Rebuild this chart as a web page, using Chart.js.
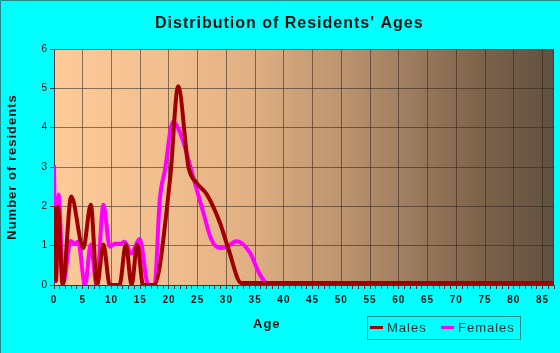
<!DOCTYPE html>
<html>
<head>
<meta charset="utf-8">
<title>Distribution of Residents' Ages</title>
<script src="https://cdn.jsdelivr.net/npm/chart.js@4.4.1/dist/chart.umd.min.js"></script>
<style>
    html, body { margin: 0; padding: 0; background: #00ffff; }
    canvas { display: block; }
</style>
</head>
<body>
<canvas id="chart-ages" width="560" height="353"></canvas>
<script>
/**
 * Distribution of Residents' Ages - males vs females, smoothed lines
 */

const CHART_TITLE = "Distribution of Residents' Ages";
const X_TITLE = 'Age';
const Y_TITLE = 'Number of residents';
const SERIES_LABELS = ['Males', 'Females'];

// axis range / ticks
const AGE_MIN = 0;
const AGE_MAX = 87;
const COUNT_MAX = 6;

// values (age, number of residents)
const maleAges = [0, 0.35, 0.7, 1.5, 3.0, 5.1, 6.4, 7.5, 8.6, 9.7, 11.4, 12.5, 13.5, 14.5, 15.5, 17.4,
    20.2, 21.6, 23.4, 24.8, 26.6, 28.9, 30.3, 32.6, 87];
const maleCounts = [2.0, 0.1, 2.0, 0.0, 2.25, 0.94, 2.04, 0.0, 1.03, 0.0, 0.0, 1.03, 0.0, 1.03, 0.0, 0.0,
    2.7, 5.05, 3.0, 2.6, 2.3, 1.57, 0.94, 0.05, 0.05];

const femaleAges = [0, 0.3, 0.8, 1.6, 2.9, 3.6, 4.2, 5.4, 6.4, 7.4, 8.6, 9.7, 10.6, 11.6, 12.3, 13.4, 14.9,
    16.4, 17.5, 18.4, 19.3, 20.7, 22.2, 24.2, 26.0, 27.4, 28.9, 30.0, 31.8, 34.1, 35.8, 37.3, 87];
const femaleCounts = [3.05, 0.1, 2.3, 0.05, 1.12, 1.05, 1.1, 0.0, 1.03, 0.0, 2.04, 0.97, 1.05, 1.05, 1.1, 0.8, 1.17,
    0.0, 0.0, 2.16, 2.92, 4.15, 3.77, 2.75, 1.83, 1.15, 0.94, 0.97, 1.11, 0.82, 0.27, 0.03, 0.0];

const FONT = '"Liberation Sans", Arial, sans-serif';
const GRID_COLOR = 'rgba(45, 35, 28, 0.55)';
const AXIS_COLOR = '#3a3a3a';
const PLOT_STOPS = [
    [0.00, '#fdca98'],
    [0.25, '#f0bd8d'],
    [0.40, '#dfae82'],
    [0.55, '#c19872'],
    [0.70, '#a07e60'],
    [0.85, '#7e634b'],
    [1.00, '#615040']
];

function toPoints(xs, ys) {
    return xs.map((x, i) => ({ x, y: ys[i] }));
}

// background, frame, title, x title and boxed legend
const decorPlugin = {
    id: 'decor',
    beforeDraw(chart) {
        const { ctx, chartArea: a, width, height } = chart;
        ctx.save();
        const g = ctx.createLinearGradient(a.left, 0, a.right, 0);
        PLOT_STOPS.forEach(([p, c]) => g.addColorStop(p, c));
        ctx.fillStyle = g;
        ctx.fillRect(a.left, a.top, a.right - a.left, a.bottom - a.top);

        ctx.strokeStyle = '#208c8c';
        ctx.lineWidth = 1;
        ctx.beginPath();
        ctx.moveTo(0.5, height);
        ctx.lineTo(0.5, 0.5);
        ctx.lineTo(width, 0.5);
        ctx.stroke();
        ctx.restore();
        ctx.letterSpacing = '1px';
    },
    beforeDatasetsDraw(chart) {
        const { ctx, chartArea: a } = chart;
        ctx.save();
        ctx.strokeStyle = GRID_COLOR;
        ctx.lineWidth = 1;
        ctx.beginPath();
        ctx.moveTo(Math.round(a.right) - 0.5, a.top);
        ctx.lineTo(Math.round(a.right) - 0.5, a.bottom);
        ctx.stroke();
        ctx.restore();
    },
    afterDraw(chart) {
        const { ctx } = chart;
        ctx.save();
        ctx.letterSpacing = '1px';
        ctx.textBaseline = 'middle';
        ctx.textAlign = 'left';

        ctx.fillStyle = '#111';
        ctx.font = 'bold 16px ' + FONT;
        ctx.fillText(CHART_TITLE, 155, 23.5);

        ctx.font = 'bold 13px ' + FONT;
        ctx.fillText(X_TITLE, 253, 324.5);

        // legend box
        ctx.strokeStyle = '#208c8c';
        ctx.lineWidth = 1;
        ctx.strokeRect(367.5, 316.5, 153, 23);

        const items = [
            { x: 370, tx: 387 },
            { x: 441, tx: 458 }
        ];
        ctx.font = '13px ' + FONT;
        chart.data.datasets.forEach((ds, i) => {
            const it = items[i];
            ctx.strokeStyle = ds.borderColor;
            ctx.lineWidth = 3;
            ctx.beginPath();
            ctx.moveTo(it.x, 327.5);
            ctx.lineTo(it.x + 13, 327.5);
            ctx.stroke();
            ctx.fillStyle = '#0f3535';
            ctx.fillText(ds.label, it.tx, 328);
        });
        ctx.restore();
    }
};

const ctx = document.getElementById('chart-ages');

new Chart(ctx, {
    type: 'line',
    data: {
        datasets: [{
            label: SERIES_LABELS[0],
            data: toPoints(maleAges, maleCounts),
            borderColor: '#a00000',
            borderWidth: 4,
            pointRadius: 0,
            fill: false,
            cubicInterpolationMode: 'monotone'
        }, {
            label: SERIES_LABELS[1],
            data: toPoints(femaleAges, femaleCounts),
            borderColor: '#ff00ff',
            borderWidth: 4,
            pointRadius: 0,
            fill: false,
            cubicInterpolationMode: 'monotone'
        }]
    },
    options: {
        responsive: false,
        animation: false,
        layout: { padding: { top: 49, right: 6, left: 0, bottom: 0 } },
        plugins: {
            legend: { display: false },
            title: { display: false },
            tooltip: { enabled: false }
        },
        scales: {
            x: {
                type: 'linear',
                min: AGE_MIN,
                max: AGE_MAX,
                afterFit: s => { s.height = 68; },
                border: { display: true, color: AXIS_COLOR, width: 1 },
                grid: {
                    color: c => (c.tick && c.tick.value % 5 === 0) ? GRID_COLOR : 'rgba(0,0,0,0)',
                    tickColor: AXIS_COLOR,
                    tickLength: 4
                },
                ticks: {
                    stepSize: 1,
                    autoSkip: false,
                    maxRotation: 0,
                    padding: 5,
                    color: '#111',
                    font: { family: FONT, size: 10, weight: 'bold' },
                    callback: v => v % 5 === 0 ? v : ''
                }
            },
            y: {
                min: 0,
                max: COUNT_MAX,
                afterFit: s => { s.width = 54; },
                border: { display: true, color: AXIS_COLOR, width: 1 },
                grid: {
                    color: GRID_COLOR,
                    tickColor: AXIS_COLOR,
                    tickLength: 4
                },
                ticks: {
                    stepSize: 1,
                    padding: 2,
                    color: '#111',
                    font: { family: FONT, size: 10 }
                },
                title: {
                    display: true,
                    text: Y_TITLE,
                    color: '#111',
                    font: { family: FONT, size: 13, weight: 'bold' },
                    padding: { top: 5, bottom: 0 }
                }
            }
        }
    },
    plugins: [decorPlugin]
});
</script>
</body>
</html>
